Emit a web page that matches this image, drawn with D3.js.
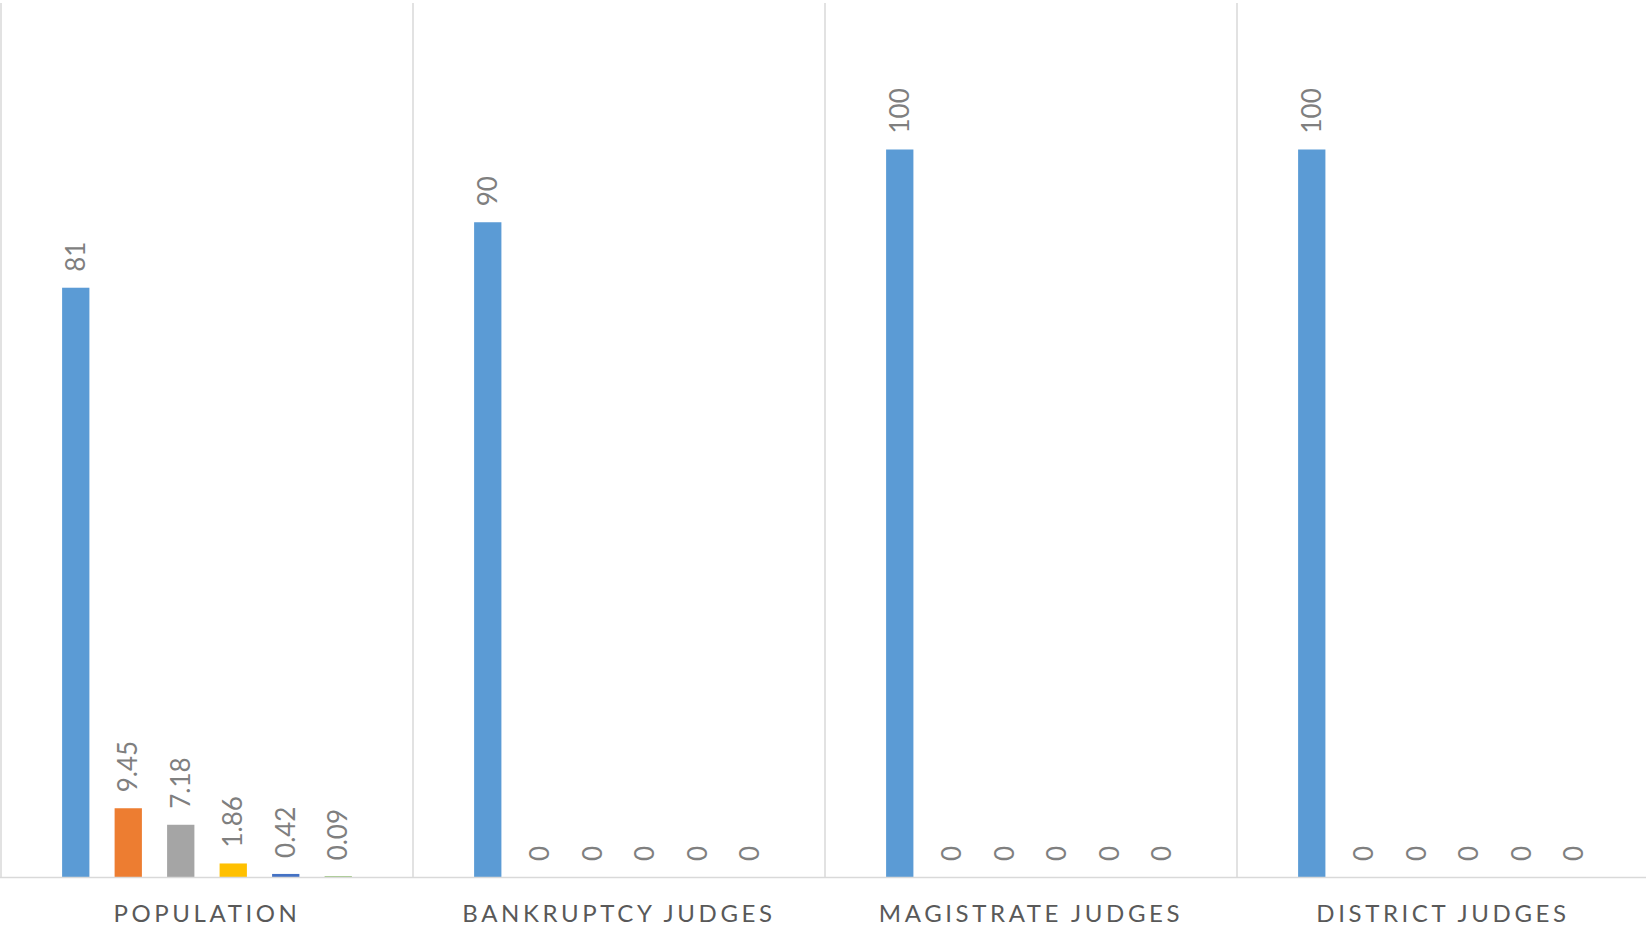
<!DOCTYPE html>
<html>
<head>
<meta charset="utf-8">
<script src="https://cdn.jsdelivr.net/npm/d3@7"></script>
<style>
  body { margin: 0; background: #fff; }
</style>
</head>
<body>
<div id="chart"></div>
<script>
// categories and values
const categories = ["POPULATION", "BANKRUPTCY JUDGES", "MAGISTRATE JUDGES", "DISTRICT JUDGES"];
const series = ["Group 1", "Group 2", "Group 3", "Group 4", "Group 5", "Group 6"];
const population = [81, 9.45, 7.18, 1.86, 0.42, 0.09];
const bankruptcy = [90, 0, 0, 0, 0, 0];
const magistrate = [100, 0, 0, 0, 0, 0];
const district = [100, 0, 0, 0, 0, 0];
const colors = ["#5B9BD5", "#ED7D31", "#A5A5A5", "#FFC000", "#4472C4", "#70AD47"];

const rows = [population, bankruptcy, magistrate, district];
const data = categories.map((c, i) => ({cat: c, values: rows[i]}));

const W = 1646, H = 929;
const plot = {left: 1, right: 1649, top: 4, bottom: 877};

const svg = d3.select("#chart").append("svg")
    .attr("width", W)
    .attr("height", H);

const x0 = d3.scaleBand()
    .domain(categories)
    .range([plot.left, plot.right])
    .paddingInner(0)
    .paddingOuter(0);

const x1 = d3.scaleBand()
    .domain(series)
    .range([0, x0.bandwidth()])
    .paddingInner(0.48)
    .paddingOuter(1.164);

const y = d3.scaleLinear().domain([0, 120]).range([plot.bottom, plot.top]);

// vertical separators between categories
svg.append("g")
  .selectAll("line")
  .data(categories.concat(["end"]))
  .join("line")
    .attr("x1", (d, i) => plot.left + i * x0.bandwidth())
    .attr("x2", (d, i) => plot.left + i * x0.bandwidth())
    .attr("y1", plot.top - 1)
    .attr("y2", plot.bottom)
    .attr("stroke", "#D9D9D9")
    .attr("stroke-width", 1.5);

const groups = svg.append("g")
  .selectAll("g")
  .data(data)
  .join("g")
    .attr("transform", d => "translate(" + x0(d.cat) + ",0)");

groups.selectAll("rect")
  .data(d => d.values.map((v, i) => ({key: series[i], value: v, color: colors[i]})))
  .join("rect")
    .attr("x", d => x1(d.key))
    .attr("width", x1.bandwidth())
    .attr("y", d => y(d.value))
    .attr("height", d => y(0) - y(d.value))
    .attr("fill", d => d.color);

// data labels, rotated
groups.selectAll("text.val")
  .data(d => d.values.map((v, i) => ({key: series[i], value: v})))
  .join("text")
    .attr("class", "val")
    .attr("transform", d => "translate(" + (x1(d.key) + x1.bandwidth() / 2) + "," + (y(d.value) - 16) + ") rotate(-90)")
    .attr("dy", "0.35em")
    .attr("text-anchor", "start")
    .attr("font-family", "Lato, 'Open Sans', sans-serif")
    .attr("font-size", 26)
    .attr("fill", "#7F7F7F")
    .text(d => d.value);

// x axis line
svg.append("line")
    .attr("x1", 0)
    .attr("x2", W)
    .attr("y1", plot.bottom + 0.5)
    .attr("y2", plot.bottom + 0.5)
    .attr("stroke", "#D9D9D9")
    .attr("stroke-width", 1.5);

// category labels
svg.append("g")
  .selectAll("text")
  .data(categories)
  .join("text")
    .attr("x", d => x0(d) + x0.bandwidth() / 2)
    .attr("y", 922)
    .attr("text-anchor", "middle")
    .attr("font-family", "Lato, 'Open Sans', sans-serif")
    .attr("font-size", 24)
    .attr("letter-spacing", "0.15em")
    .attr("fill", "#595959")
    .text(d => d);
</script>
</body>
</html>
